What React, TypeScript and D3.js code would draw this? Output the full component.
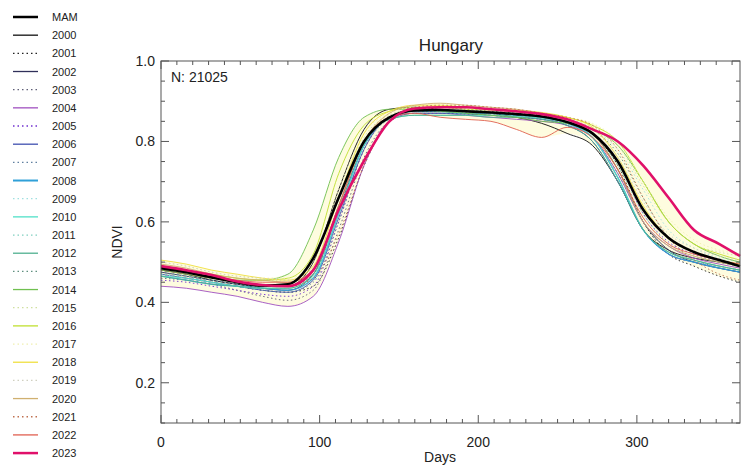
import React from "react";
import * as d3 from "d3";

const days = [0, 16, 32, 48, 64, 80, 96, 112, 128, 144, 160, 176, 192, 208, 224, 240, 256, 272, 288, 304, 320, 336, 352, 365];

const mam = [.485, .475, .462, .450, .442, .445, .51, .66, .80, .86, .877, .878, .875, .872, .868, .862, .848, .82, .75, .63, .56, .525, .505, .49];

const y2000 = [.48, .47, .455, .445, .44, .44, .50, .68, .83, .88, .885, .88, .875, .87, .86, .845, .82, .79, .70, .58, .53, .51, .50, .49];
const y2001 = [.47, .46, .45, .44, .43, .425, .44, .56, .74, .85, .88, .885, .88, .875, .87, .865, .85, .82, .74, .60, .52, .49, .465, .45];
const y2002 = [.475, .465, .455, .445, .435, .43, .47, .63, .79, .86, .875, .875, .87, .87, .865, .86, .85, .82, .73, .60, .53, .50, .485, .475];
const y2003 = [.46, .455, .445, .43, .415, .405, .43, .58, .76, .85, .87, .87, .868, .865, .86, .855, .84, .80, .70, .58, .52, .50, .49, .48];
const y2004 = [.44, .435, .425, .415, .40, .39, .415, .55, .74, .85, .87, .87, .865, .86, .855, .85, .84, .81, .72, .60, .54, .51, .495, .485];
const y2005 = [.455, .45, .44, .43, .42, .415, .44, .60, .78, .86, .875, .875, .87, .865, .86, .855, .845, .82, .75, .62, .55, .52, .50, .49];
const y2006 = [.47, .46, .45, .44, .43, .425, .455, .61, .78, .86, .87, .87, .868, .865, .86, .855, .84, .80, .70, .58, .52, .50, .485, .475];
const y2007 = [.475, .465, .45, .44, .43, .425, .45, .60, .78, .855, .87, .87, .87, .868, .865, .86, .845, .81, .72, .60, .53, .505, .49, .48];
const y2008 = [.465, .455, .445, .44, .435, .43, .46, .62, .79, .86, .875, .875, .87, .87, .865, .86, .845, .81, .71, .58, .52, .50, .485, .475];
const y2009 = [.47, .46, .45, .44, .435, .435, .47, .63, .80, .86, .875, .875, .872, .87, .868, .862, .85, .83, .78, .68, .58, .535, .51, .50];
const y2010 = [.465, .46, .45, .44, .435, .435, .465, .62, .79, .855, .865, .865, .865, .865, .862, .858, .845, .81, .71, .58, .525, .505, .49, .48];
const y2011 = [.47, .465, .455, .445, .44, .44, .47, .63, .80, .86, .87, .872, .87, .87, .865, .86, .85, .82, .74, .62, .545, .515, .50, .49];
const y2012 = [.465, .455, .445, .44, .435, .435, .47, .64, .80, .855, .865, .865, .865, .86, .86, .855, .84, .80, .70, .58, .525, .505, .49, .48];
const y2013 = [.48, .47, .46, .45, .44, .44, .47, .63, .80, .86, .875, .875, .872, .87, .865, .86, .85, .83, .77, .66, .56, .525, .505, .495];
const y2014 = [.48, .47, .46, .455, .455, .47, .58, .76, .86, .88, .88, .875, .87, .865, .86, .85, .845, .83, .79, .70, .60, .545, .515, .50];
const y2015 = [.49, .48, .47, .46, .455, .455, .49, .66, .81, .865, .88, .88, .878, .875, .87, .865, .855, .835, .79, .69, .60, .545, .525, .515];
const y2016 = [.49, .48, .47, .46, .455, .46, .52, .72, .84, .875, .885, .885, .88, .878, .875, .87, .86, .84, .80, .70, .60, .545, .52, .505];
const y2017 = [.50, .49, .475, .465, .46, .46, .50, .68, .82, .87, .885, .885, .88, .878, .875, .87, .86, .845, .80, .70, .61, .555, .53, .52];
const y2018 = [.505, .495, .48, .47, .46, .455, .49, .66, .82, .875, .89, .89, .885, .88, .878, .872, .86, .835, .76, .64, .56, .525, .505, .495];
const y2019 = [.50, .49, .475, .465, .46, .455, .485, .64, .80, .865, .88, .88, .878, .875, .87, .865, .855, .83, .76, .65, .57, .535, .515, .505];
const y2020 = [.495, .485, .47, .46, .455, .45, .48, .64, .80, .87, .89, .895, .89, .885, .88, .87, .855, .82, .73, .60, .54, .515, .50, .49];
const y2021 = [.48, .47, .46, .45, .44, .44, .46, .57, .74, .85, .885, .89, .89, .885, .88, .87, .86, .84, .78, .66, .56, .505, .47, .455];
const y2022 = [.485, .475, .465, .455, .45, .45, .48, .64, .80, .86, .87, .86, .855, .85, .83, .81, .835, .81, .73, .61, .545, .52, .505, .495];
const y2023 = [.49, .48, .468, .452, .443, .44, .48, .63, .752, .85, .882, .885, .885, .88, .875, .868, .855, .83, .80, .74, .66, .58, .545, .515];

const yearLabels = ["2000", "2001", "2002", "2003", "2004", "2005", "2006", "2007", "2008", "2009", "2010", "2011", "2012", "2013", "2014", "2015", "2016", "2017", "2018", "2019", "2020", "2021", "2022", "2023"];
const yearValues = [y2000, y2001, y2002, y2003, y2004, y2005, y2006, y2007, y2008, y2009, y2010, y2011, y2012, y2013, y2014, y2015, y2016, y2017, y2018, y2019, y2020, y2021, y2022, y2023];
const yearColors = ["#111111", "#222222", "#30305a", "#606078", "#a050c0", "#7030d0", "#4050b0", "#6080a0", "#30a0d8", "#a0e0e0", "#50e0c8", "#80d0c0", "#50b090", "#609080", "#70c050", "#d0e0a0", "#c0e030", "#f0f0b0", "#f0e040", "#d0d0c0", "#d0b070", "#c07050", "#e06050", "#e0106a"];
const yearDotted = [false, true, false, true, false, true, false, true, false, true, false, true, false, true, false, true, false, true, false, true, false, true, false, false];

const xTicks = [0, 100, 200, 300];
const yTicks = [0.2, 0.4, 0.6, 0.8, 1.0];

export default function App() {
  const W = 742, H = 465;
  const x = d3.scaleLinear().domain([0, 365]).range([161, 740]);
  const y = d3.scaleLinear().domain([0.1, 1.0]).range([423, 61]);
  const line = d3.line<number>().x((_, i) => x(days[i])).y((v) => y(v)).curve(d3.curveMonotoneX);

  const envArea = d3.area<number>()
    .x((_, i) => x(days[i]))
    .y0((_, i) => y(d3.min(yearValues, (s) => s[i]) as number))
    .y1((_, i) => y(d3.max(yearValues, (s) => s[i]) as number))
    .curve(d3.curveMonotoneX);

  const left = 161, right = 740, top = 61, bottom = 423;
  const axisColor = "#555";
  const xMinor = d3.range(0, 366, 10);
  const yMinor = d3.range(0.1, 1.0001, 0.05);

  const legendItems = [{ label: "MAM", color: "#000", dotted: false, w: 2.5 }].concat(
    yearLabels.map((l, i) => ({ label: l, color: yearColors[i], dotted: yearDotted[i], w: l === "2023" ? 2.5 : l === "2008" ? 2 : 1.3 }))
  );

  const font = "'Liberation Sans', Arial, Helvetica, sans-serif";

  return (
    <svg width={W} height={H} style={{ position: "absolute", left: 0, top: 0, background: "#fff" }} fontFamily={font}>
      <rect x={0} y={0} width={W} height={H} fill="#fff" />
      <path d={envArea(days.map(() => 0)) || ""} fill="#fdf9c4" opacity={0.55} />
      {yearValues.slice(0, 23).map((vals, i) => (
        <path key={yearLabels[i]} d={line(vals) || ""} fill="none" stroke={yearColors[i]}
          strokeWidth={yearLabels[i] === "2008" ? 1.3 : 1}
          strokeDasharray={yearDotted[i] ? "1.5,2.5" : undefined} opacity={0.9} />
      ))}
      <path d={line(mam) || ""} fill="none" stroke="#000" strokeWidth={2.6} />
      <path d={line(y2023) || ""} fill="none" stroke={yearColors[23]} strokeWidth={2.6} />

      <rect x={left} y={top} width={right - left} height={bottom - top} fill="none" stroke={axisColor} strokeWidth={1} />
      {xMinor.map((d) => {
        const major = d % 100 === 0;
        const len = major ? 8 : 4;
        return (
          <g key={"xt" + d}>
            <line x1={x(d)} x2={x(d)} y1={bottom} y2={bottom - len} stroke={axisColor} />
            <line x1={x(d)} x2={x(d)} y1={top} y2={top + len} stroke={axisColor} />
          </g>
        );
      })}
      {yMinor.map((v) => {
        const major = Math.abs(v * 10 - Math.round(v * 10)) < 1e-6 && Math.round(v * 10) % 2 === 0;
        const len = major ? 8 : 4;
        return (
          <g key={"yt" + v.toFixed(2)}>
            <line x1={left} x2={left + len} y1={y(v)} y2={y(v)} stroke={axisColor} />
            <line x1={right} x2={right - len} y1={y(v)} y2={y(v)} stroke={axisColor} />
          </g>
        );
      })}
      {xTicks.map((d) => (
        <text key={"xl" + d} x={x(d)} y={447} fontSize={14} textAnchor="middle" fill="#222">{d}</text>
      ))}
      {yTicks.map((v) => (
        <text key={"yl" + v} x={155} y={y(v) + 5} fontSize={14} textAnchor="end" fill="#222">{v.toFixed(1)}</text>
      ))}
      <text x={440} y={462} fontSize={14} textAnchor="middle" fill="#222">Days</text>
      <text transform={`translate(122,242) rotate(-90)`} fontSize={14} textAnchor="middle" fill="#222">NDVI</text>
      <text x={451} y={51} fontSize={17} textAnchor="middle" fill="#222">Hungary</text>
      <text x={171} y={82} fontSize={14} fill="#222">N: 21025</text>

      {legendItems.map((it, i) => {
        const yy = 17 + i * 18.17;
        return (
          <g key={"lg" + it.label}>
            <line x1={13} x2={38} y1={yy} y2={yy} stroke={it.color} strokeWidth={it.w}
              strokeDasharray={it.dotted ? "1.5,3" : undefined} />
            <text x={52} y={yy + 4} fontSize={11} fill="#222">{it.label}</text>
          </g>
        );
      })}
    </svg>
  );
}
